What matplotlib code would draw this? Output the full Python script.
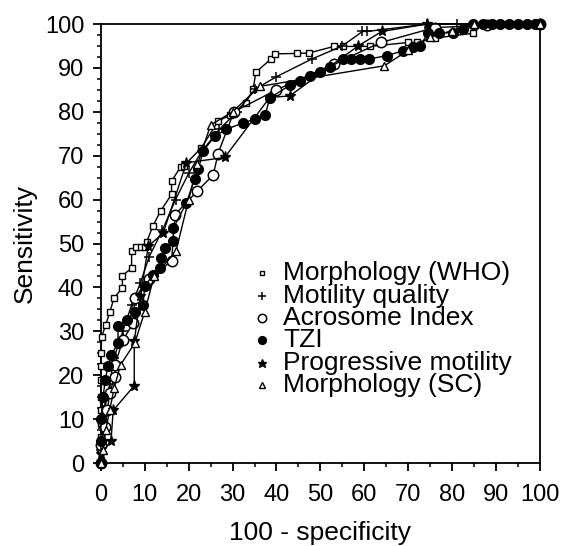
import numpy as np
import matplotlib.pyplot as plt
from matplotlib.ticker import MultipleLocator

plt.rcParams['font.family'] = ['Liberation Sans', 'DejaVu Sans']

# Curvas ROC: x = 100 - especificidad, y = sensibilidad
who_x = [0, 0, 0, 0, 0, 0, 0, 0, 0, 0.2, 1.1, 2, 3, 4.9, 4.9, 7, 7, 8.1, 9.1, 10, 10.4, 11.9,
         13.6, 16.1, 16.1, 18.2, 18.9, 22.9, 26.7, 29.4, 33, 34.7, 35.3, 38.7, 39.6, 44.6,
         47.4, 53.1, 55.2, 61.4, 70, 72, 76.2, 84.8, 87, 100]
who_y = [0, 3, 6, 9, 12, 15, 19, 22, 25, 28.8, 31.5, 34.3, 37.6, 39.9, 42.7, 44.4, 48.2, 49.2,
         49.2, 49.2, 50.3, 54.1, 57.4, 61.2, 64.2, 67.5, 67.7, 71.8, 77.9, 79.2, 82, 85.2, 89,
         92, 93.2, 93.3, 93.4, 94.9, 94.9, 94.9, 95.8, 95.8, 96.8, 97.9, 100, 100]

mot_x = [0, 0, 0.5, 1, 2, 3, 5, 7, 9, 11, 14, 17, 20, 23, 27, 31, 35.2, 40, 48, 55, 59.6,
         60.6, 74.4, 81.2, 100]
mot_y = [0, 3, 8, 13, 18, 24, 30, 36, 41, 47, 53, 60, 66, 71, 76, 80, 85.2, 88, 92, 95, 98.3,
         98.3, 100, 100, 100]

acr_x = [0, 0, 0.9, 1.5, 2, 3.2, 3.2, 5, 7.4, 7.7, 11, 16.1, 16.9, 22, 25.6, 26.7, 30.3, 40,
         53.1, 63.8, 76.1, 87.9, 100]
acr_y = [0, 4, 8.3, 12, 16, 19.7, 22.3, 28, 31.9, 37.6, 42, 46, 56.6, 62, 65.6, 70.5, 80, 85,
         90.9, 95.8, 99.2, 99.7, 100]

tzi_x = [0, 0, 0, 0.5, 1, 1.6, 2.4, 3.9, 3.9, 5.9, 7.7, 9.6, 10, 11.9, 13.4, 13.8, 14.6, 16.5,
         16.5, 19.5, 21.4, 22.2, 23.3, 26, 28.6, 32.4, 35.1, 37.4, 38.5, 43, 45.3, 47.6, 49.9,
         52.2, 55.2, 57, 59, 61, 65.1, 68.9, 71, 72.7, 74.6, 77, 80.3, 82.6, 84.8, 87, 89, 91,
         93, 95, 97, 99, 100]
tzi_y = [0, 5, 10, 15, 19, 22, 24.7, 27.3, 31.1, 32.6, 34.5, 36, 40.3, 42.9, 44.4, 46.7, 49,
         50.5, 53.5, 59.3, 64.8, 66.9, 71.1, 74.5, 76, 77.5, 78.3, 79.2, 83.2, 86, 87.1, 88.2,
         89, 90.1, 92, 92, 92, 92, 92.8, 93.9, 94.7, 95, 98, 98, 98, 98.9, 100, 100, 100, 100,
         100, 100, 100, 100, 100]

prog_x = [0, 0, 2.3, 2.8, 7.6, 7.6, 9, 10.8, 14.2, 19.5, 28.2, 38.5, 43, 58.6, 64, 74.4, 100]
prog_y = [0, 2, 5, 12, 17.6, 27.7, 38, 49.4, 52.4, 68.4, 69.6, 83.3, 83.6, 95, 98.3, 100, 100]

sc_x = [0, 0.5, 1.1, 2, 3, 4.5, 7.7, 10, 12.1, 17.1, 20, 22, 25, 30, 36.2, 64.6, 70, 75, 80,
        85, 100]
sc_y = [0, 3, 7.5, 12, 17, 22.4, 27.3, 34.5, 42.5, 48.2, 60, 68, 77, 80, 85.8, 90.5, 94, 97,
        98.5, 100, 100]

etiquetas = ['Morphology (WHO)', 'Motility quality', 'Acrosome Index', 'TZI',
             'Progressive motility', 'Morphology (SC)']

fig = plt.figure(figsize=(5.70, 5.46), dpi=100)
ax = fig.add_axes([0.177, 0.152, 0.770, 0.804])

estilos = [
    (who_x, who_y, dict(marker='s', ms=3.8, mfc='white', mec='black', mew=1.0)),
    (mot_x, mot_y, dict(marker='+', ms=7.5, mec='black', mew=1.1)),
    (acr_x, acr_y, dict(marker='o', ms=7.5, mfc='white', mec='black', mew=1.1)),
    (tzi_x, tzi_y, dict(marker='o', ms=7, mfc='black', mec='black')),
    (prog_x, prog_y, dict(marker='*', ms=8, mfc='black', mec='black')),
    (sc_x, sc_y, dict(marker='^', ms=5.5, mfc='white', mec='black', mew=1.0)),
]
for xs, ys, kw in estilos:
    ax.plot(xs, ys, color='black', lw=1.0, clip_on=False, zorder=3, **kw)

ax.set_xlim(0, 100)
ax.set_ylim(0, 100)
ax.xaxis.set_major_locator(MultipleLocator(10))
ax.xaxis.set_minor_locator(MultipleLocator(5))
ax.yaxis.set_major_locator(MultipleLocator(10))
ax.yaxis.set_minor_locator(MultipleLocator(2.5))
ax.tick_params(which='major', direction='out', length=6, width=1.3, labelsize=17)
ax.tick_params(which='minor', direction='out', length=3, width=1.1)
ax.tick_params(axis='x', which='major', pad=9)
ax.tick_params(axis='y', which='major', pad=6)
for s in ax.spines.values():
    s.set_linewidth(1.3)

ax.set_xlabel('100 - specificity', fontsize=19, labelpad=11)
ax.set_ylabel('Sensitivity', fontsize=19, labelpad=6)

# leyenda dibujada a mano (interlineado muy apretado en el original)
y0, dy = 0.432, 0.0508
for i, (lab, (_, _, kw)) in enumerate(zip(etiquetas, estilos)):
    kw2 = dict(kw)
    kw2['ms'] = kw2['ms'] * 0.8
    ax.plot([0.367], [y0 - i * dy], transform=ax.transAxes, color='black',
            linestyle='none', **kw2)
    ax.text(0.415, y0 - i * dy, lab, transform=ax.transAxes, fontsize=19,
            va='center', ha='left')

fig.savefig('out.png', dpi=100)
